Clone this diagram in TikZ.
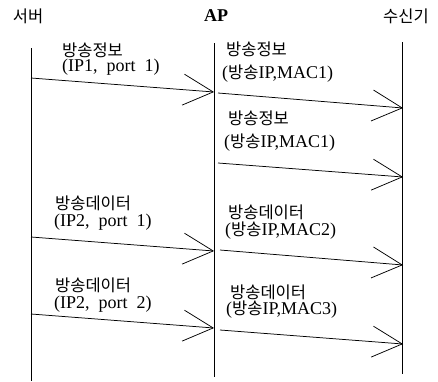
\documentclass[tikz,border=0pt]{standalone}
\usepackage{fontspec}
\setmainfont{Liberation Serif}
\newfontfamily\krfont{Noto Sans CJK KR}
\newcommand\kr{\krfont\fontsize{16.5}{18}\selectfont}
\usetikzlibrary{arrows.meta}

\tikzset{
  life/.style={line width=0.8pt},
  msg/.style={line width=0.75pt, -{Straight Barb[length=30pt,width=31pt,line width=0.75pt]}},
  txt/.style={anchor=west, inner sep=0pt, font=\fontsize{18}{19}\selectfont},
  head/.style={inner sep=0pt, font=\fontsize{18}{19}\selectfont}
}

\begin{document}
\begin{tikzpicture}[x=1pt, y=-1pt]
            \useasboundingbox (0,0) rectangle (438,381);
            % heads
            \node[head] (server) at (28,16) {\kr 서버};
            \node[head] (ap) at (216,16) {\bfseries AP};
            \node[head] (recv) at (406,16) {\kr 수신기};
            % life lines
            \coordinate (serverTop) at (31,48);   \coordinate (serverBot) at (31,381);
            \coordinate (apTop) at (214,43);      \coordinate (apBot) at (214,377);
            \coordinate (recvTop) at (402,42);    \coordinate (recvBot) at (402,374);
            \draw[life] (serverTop) -- (serverBot);
            \draw[life] (apTop) -- (apBot);
            \draw[life] (recvTop) -- (recvBot);
            % message points
            \coordinate (s1) at (31,78);   \coordinate (a1) at (214,92);
            \coordinate (a2) at (218,93);  \coordinate (r2) at (403,108);
            \coordinate (a3) at (218,163); \coordinate (r3) at (403,177);
            \coordinate (s4) at (31,237);  \coordinate (a4) at (214,251);
            \coordinate (a5) at (220,250); \coordinate (r5) at (403,265);
            \coordinate (s6) at (31,314);  \coordinate (a6) at (214,328);
            \coordinate (a7) at (220,330); \coordinate (r7) at (403,344);
            \draw[msg] (s1) -- (a1);
            \draw[msg] (a2) -- (r2);
            \draw[msg] (a3) -- (r3);
            \draw[msg] (s4) -- (a4);
            \draw[msg] (a5) -- (r5);
            \draw[msg] (s6) -- (a6);
            \draw[msg] (a7) -- (r7);
            % labels
            \node[txt] (l1a) at (62,50) {\kr 방송정보};
            \node[txt] (l1b) at (62,67) {(IP1,\ \ port\ \ 1)};
            \node[txt] (l2a) at (226,49) {\kr 방송정보};
            \node[txt] (l2b) at (222,74) {({\kr 방송}IP,MAC1)};
            \node[txt] (l3a) at (228,118) {\kr 방송정보};
            \node[txt] (l3b) at (224,143) {({\kr 방송}IP,MAC1)};
            \node[txt] (l4a) at (55,203) {\kr 방송데이터};
            \node[txt] (l4b) at (54,222) {(IP2,\ \ port\ \ 1)};
            \node[txt] (l5a) at (228,212) {\kr 방송데이터};
            \node[txt] (l5b) at (225,231) {({\kr 방송}IP,MAC2)};
            \node[txt] (l6a) at (55,285) {\kr 방송데이터};
            \node[txt] (l6b) at (54,304) {(IP2,\ \ port\ \ 2)};
            \node[txt] (l7a) at (230,292) {\kr 방송데이터};
            \node[txt] (l7b) at (226,310) {({\kr 방송}IP,MAC3)};
        \end{tikzpicture}
\end{document}
